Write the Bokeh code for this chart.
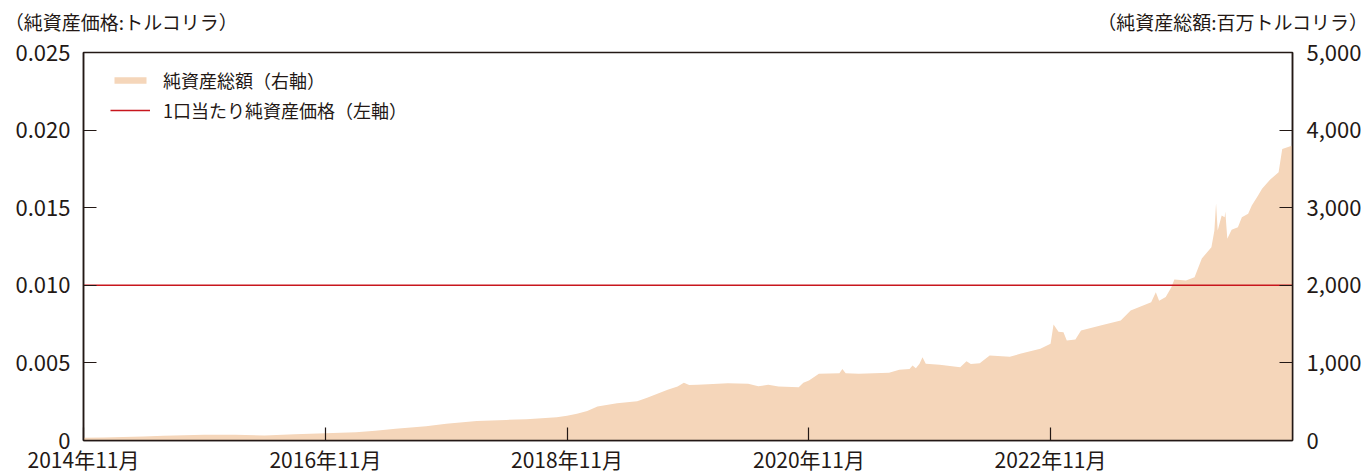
import pandas as pd
from bokeh.plotting import figure
from bokeh.models import (Range1d, LinearAxis, FixedTicker, DatetimeTickFormatter,
                          NumeralTickFormatter, Legend, LegendItem)
from bokeh.embed import file_html
from bokeh.resources import INLINE

# ---- data ----
asset_dates = [
    "2014-11-01", "2015-01-01", "2015-03-01", "2015-05-01", "2015-07-01", "2015-09-01",
    "2015-11-01", "2016-02-01", "2016-05-01", "2016-08-01", "2016-11-01", "2017-02-01",
    "2017-04-01", "2017-06-01", "2017-09-01", "2017-11-01", "2018-02-01", "2018-05-01",
    "2018-07-01", "2018-10-01", "2018-11-01", "2018-12-01", "2019-01-01", "2019-02-01",
    "2019-04-01", "2019-06-01", "2019-07-01", "2019-08-01", "2019-09-01", "2019-10-01",
    "2019-10-20", "2019-11-05", "2019-12-01", "2020-01-01", "2020-03-01", "2020-05-01",
    "2020-06-01", "2020-07-01", "2020-08-01", "2020-10-01", "2020-10-15", "2020-11-01",
    "2020-12-01", "2021-02-01", "2021-02-10", "2021-02-20", "2021-04-01", "2021-07-01",
    "2021-08-01", "2021-09-01", "2021-09-10", "2021-09-20", "2021-10-01", "2021-10-10",
    "2021-10-20", "2021-12-01", "2022-02-01", "2022-02-20", "2022-03-05", "2022-04-01",
    "2022-05-01", "2022-07-01", "2022-08-01", "2022-10-01", "2022-11-01", "2022-11-10",
    "2022-11-25", "2022-12-10", "2022-12-20", "2023-01-15", "2023-02-01", "2023-04-01",
    "2023-06-01", "2023-07-01", "2023-09-01", "2023-09-15", "2023-09-25", "2023-10-15",
    "2023-11-01", "2023-11-10", "2023-12-15", "2024-01-10", "2024-02-01", "2024-03-01",
    "2024-03-10", "2024-03-15", "2024-03-20", "2024-04-01", "2024-04-10", "2024-04-12",
    "2024-04-18", "2024-05-01", "2024-05-20", "2024-06-01", "2024-06-20", "2024-07-01",
    "2024-07-20", "2024-08-01", "2024-08-25", "2024-09-20", "2024-10-01", "2024-11-01",
]
net_assets = [
    35, 40, 45, 52, 60, 68,
    73, 74, 66, 80, 94, 107,
    125, 150, 185, 215, 250, 265,
    275, 301, 320, 344, 380, 438,
    481, 507, 550, 601, 653, 696,
    743, 715, 717, 725, 739, 730,
    700, 717, 696, 687, 743, 773,
    859, 868, 923, 868, 859, 872,
    911, 923, 966, 930, 988, 1074,
    990, 975, 945, 1022, 985, 996,
    1095, 1080, 1117, 1181, 1246, 1495,
    1400, 1396, 1289, 1300, 1418, 1482,
    1546, 1675, 1782, 1911, 1800, 1850,
    1976, 2075, 2062, 2105, 2345, 2491,
    2706, 3058, 2706, 2899, 2878, 2951,
    2599, 2715, 2749, 2878, 2921, 3028,
    3157, 3243, 3359, 3457, 3758, 3801,
]
price_dates = ["2014-11-01", "2024-11-01"]
nav_price = [0.01, 0.01]

x_tick_dates = ["2014-11-01", "2016-11-01", "2018-11-01", "2020-11-01", "2022-11-01"]
left_ticks = [0, 0.005, 0.010, 0.015, 0.020, 0.025]
right_ticks = [0, 1000, 2000, 3000, 4000, 5000]

label_assets = "純資産総額（右軸）"
label_price = "1口当たり純資産価格（左軸）"
title_left = "（純資産価格:トルコリラ）"
title_right = "（純資産総額:百万トルコリラ）"

FONT = "Noto Sans CJK JP"
INK = "#231815"
AREA = "#f5d6ba"
RED = "#c8161d"

ad = pd.to_datetime(asset_dates)
pdt = pd.to_datetime(price_dates)
x_start = pd.Timestamp("2014-11-01")
x_end = pd.Timestamp("2024-11-01")

p = figure(width=1368, height=476, x_axis_type="datetime",
           x_range=Range1d(x_start, x_end), y_range=Range1d(0, 0.025),
           output_backend="svg", toolbar_location=None,
           min_border_left=83, min_border_right=76, min_border_top=52, min_border_bottom=36)
p.extra_y_ranges = {"amt": Range1d(0, 5000)}

p.xgrid.visible = False
p.ygrid.visible = False
p.outline_line_color = INK
p.outline_line_width = 1.5
p.background_fill_color = "white"
p.border_fill_color = "white"

area = p.varea(x=ad, y1=0, y2=net_assets, fill_color=AREA, y_range_name="amt")
line = p.line(x=pdt, y=nav_price, line_color=RED, line_width=1.5)

# bottom axis
xa = p.xaxis[0]
xa.ticker = FixedTicker(ticks=[pd.Timestamp(d).value / 1e6 for d in x_tick_dates])
fmt = "%Y年%m月"
xa.formatter = DatetimeTickFormatter(years=fmt, months=fmt, days=fmt, hours=fmt,
                                     minutes=fmt, hourmin=fmt, seconds=fmt)

# left axis
ya = p.yaxis[0]
ya.ticker = FixedTicker(ticks=left_ticks)
ya.formatter = NumeralTickFormatter(format="0.000")
ya.major_label_overrides = {0: "0"}

# right axis
ra = LinearAxis(y_range_name="amt", ticker=FixedTicker(ticks=right_ticks),
                formatter=NumeralTickFormatter(format="0,0"))
p.add_layout(ra, "right")

for ax in (xa, ya, ra):
    ax.axis_line_color = INK
    ax.axis_line_width = 1.5
    ax.major_tick_line_color = INK
    ax.major_tick_line_width = 1.2
    ax.major_tick_out = 0
    ax.major_tick_in = 13
    ax.minor_tick_line_color = None
    ax.major_label_text_font = FONT
    ax.major_label_text_font_size = "22px"
    ax.major_label_text_color = INK
ya.major_label_standoff = 13
ra.major_label_standoff = 14
xa.major_label_standoff = 3
xa.major_label_text_font_size = "21px"

# unit captions above the frame (left and right), as labels of an axis above
span_ms = (x_end - x_start).value / 1e6
start_ms = x_start.value / 1e6
cap_left = start_ms + span_ms * (121 - 83) / 1209
cap_right = start_ms + span_ms * (1234 - 83) / 1209
ta = LinearAxis(ticker=FixedTicker(ticks=[cap_left, cap_right]),
                major_label_overrides={cap_left: title_left, cap_right: title_right})
ta.axis_line_color = None
ta.major_tick_line_color = None
ta.minor_tick_line_color = None
ta.major_label_standoff = 12
ta.major_label_text_font = FONT
ta.major_label_text_font_size = "19px"
ta.major_label_text_color = INK
p.add_layout(ta, "above")

# legend
legend = Legend(items=[LegendItem(label=label_assets, renderers=[area]),
                       LegendItem(label=label_price, renderers=[line])],
                location=(27, 317), orientation="vertical",
                glyph_width=40, glyph_height=8, label_height=20, label_standoff=13,
                spacing=4, padding=0, margin=0,
                border_line_color=None, background_fill_alpha=0,
                label_text_font=FONT, label_text_font_size="18px", label_text_color=INK)
p.add_layout(legend)

open("out.html", "w").write(file_html(p, INLINE))
